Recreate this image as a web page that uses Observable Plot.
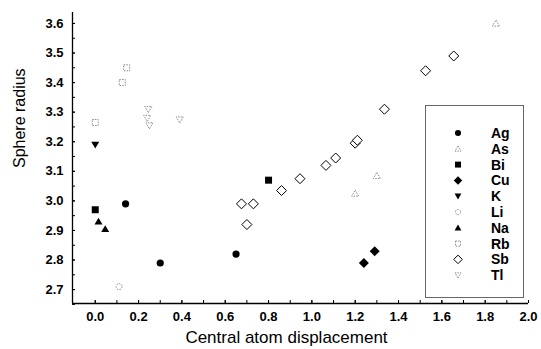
<!DOCTYPE html>
<html>
<head>
<meta charset="utf-8">
<script src="https://cdn.jsdelivr.net/npm/d3@7"></script>
<script src="https://cdn.jsdelivr.net/npm/@observablehq/plot@0.6"></script>
<style>
  html, body { margin: 0; padding: 0; background: #fff; }
  #wrap { position: relative; width: 541px; height: 349px; font-family: "Liberation Sans", Arial, sans-serif; }
  #legend { position: absolute; left: 0; top: 0; pointer-events: none; }
</style>
</head>
<body>
<div id="wrap"></div>
<script>
// ---- data ----
const seriesNames = ["Ag", "As", "Bi", "Cu", "K", "Li", "Na", "Rb", "Sb", "Tl"];
const agX = [0.14, 0.30, 0.65];
const agY = [2.99, 2.79, 2.82];
const asX = [1.20, 1.30, 1.85];
const asY = [3.025, 3.085, 3.60];
const biX = [0.00, 0.80];
const biY = [2.97, 3.07];
const cuX = [1.24, 1.29];
const cuY = [2.79, 2.83];
const kX = [0.00];
const kY = [3.19];
const liX = [0.11];
const liY = [2.71];
const naX = [0.015, 0.046];
const naY = [2.93, 2.905];
const rbX = [0.00, 0.125, 0.145];
const rbY = [3.265, 3.40, 3.45];
const sbX = [0.675, 0.70, 0.73, 0.86, 0.945, 1.065, 1.11, 1.20, 1.21, 1.335, 1.525, 1.655];
const sbY = [2.99, 2.92, 2.99, 3.035, 3.075, 3.12, 3.145, 3.195, 3.205, 3.31, 3.44, 3.49];
const tlX = [0.24, 0.245, 0.25, 0.39];
const tlY = [3.28, 3.31, 3.255, 3.275];
const xTickLabels = [0.0, 0.2, 0.4, 0.6, 0.8, 1.0, 1.2, 1.4, 1.6, 1.8, 2.0];
const yTickLabels = [2.7, 2.8, 2.9, 3.0, 3.1, 3.2, 3.3, 3.4, 3.5, 3.6];
const xMinorTicks = d3.range(0, 21).map(i => i / 10);
const yMinorTicks = d3.range(0, 20).map(i => +(2.65 + i * 0.05).toFixed(2));
const xDomain = [-0.105, 2.0];
const yDomain = [2.653, 3.637];
const xTitle = "Central atom displacement";
const yTitle = "Sphere radius";

const seriesX = [agX, asX, biX, cuX, kX, liX, naX, rbX, sbX, tlX];
const seriesY = [agY, asY, biY, cuY, kY, liY, naY, rbY, sbY, tlY];

// ---- symbols ----
const rad = s => Math.sqrt(s / Math.PI);
const shapes = {
  circle: {draw(c, s) { const r = rad(s); c.moveTo(r, 0); c.arc(0, 0, r, 0, 2 * Math.PI); c.closePath(); }},
  square: {draw(c, s) { const r = rad(s); c.rect(-r, -r, 2 * r, 2 * r); }},
  triUp: {draw(c, s) { const r = rad(s); c.moveTo(0, -r); c.lineTo(r * 1.05, r * 0.8); c.lineTo(-r * 1.05, r * 0.8); c.closePath(); }},
  triDown: {draw(c, s) { const r = rad(s); c.moveTo(0, r); c.lineTo(r * 1.05, -r * 0.8); c.lineTo(-r * 1.05, -r * 0.8); c.closePath(); }},
  diamond: {draw(c, s) { const r = rad(s); c.moveTo(0, -r); c.lineTo(r, 0); c.lineTo(0, r); c.lineTo(-r, 0); c.closePath(); }}
};
const faint = {fill: "white", stroke: "#8a8a8a", strokeWidth: 1, dash: "1.5,1.2"};
const styles = {
  Ag: {shape: "circle", r: 3.6, fill: "black", stroke: "none"},
  As: {shape: "triUp", r: 3.4, ...faint},
  Bi: {shape: "square", r: 3.5, fill: "black", stroke: "none"},
  Cu: {shape: "diamond", r: 5, fill: "black", stroke: "none"},
  K: {shape: "triDown", r: 3.8, fill: "black", stroke: "none"},
  Li: {shape: "circle", r: 3, ...faint},
  Na: {shape: "triUp", r: 3.8, fill: "black", stroke: "none"},
  Rb: {shape: "square", r: 3, ...faint},
  Sb: {shape: "diamond", r: 5, fill: "white", stroke: "black", strokeWidth: 1},
  Tl: {shape: "triDown", r: 3.4, ...faint}
};

const table = seriesNames.map((name, i) => ({
  name,
  rows: seriesX[i].map((x, j) => ({x, y: seriesY[i][j], name}))
}));

const tickFont = {fontSize: 13, fontWeight: "bold"};

const plot = Plot.plot({
  width: 541,
  height: 349,
  marginLeft: 72,
  marginRight: 13,
  marginTop: 12,
  marginBottom: 46,
  style: {fontFamily: "'Liberation Sans', Arial, sans-serif", background: "white", color: "black"},
  x: {domain: xDomain},
  y: {domain: yDomain},
  marks: [
    Plot.axisY({ticks: yMinorTicks, tickSize: -3, fill: "none", label: null}),
    Plot.axisY({ticks: yTickLabels, tickSize: -3, tickPadding: 12, tickFormat: d => d.toFixed(1), label: null, ...tickFont}),
    Plot.axisX({ticks: xMinorTicks, tickSize: -3, fill: "none", label: null}),
    Plot.axisX({ticks: xTickLabels, tickSize: -3, tickPadding: 11, tickFormat: d => d.toFixed(1), label: null, ...tickFont}),
    Plot.ruleX([xDomain[0]], {strokeWidth: 1.3}),
    Plot.ruleY([yDomain[0]], {strokeWidth: 1.3}),
    ...table.map(({name, rows}) => {
      const s = styles[name];
      return Plot.dot(rows, {
        x: "x", y: "y",
        symbol: shapes[s.shape], r: s.r,
        fill: s.fill, stroke: s.stroke,
        strokeWidth: s.strokeWidth || 1,
        strokeDasharray: s.dash || null
      });
    }),
    Plot.text([yTitle], {frameAnchor: "left", dx: -53, dy: 10, rotate: -90, fontSize: 16}),
    Plot.text([xTitle], {frameAnchor: "bottom", dx: -14, dy: 39, fontSize: 17})
  ]
});
document.getElementById("wrap").appendChild(plot);

// ---- legend (drawn over the plot area, top-right) ----
const lg = d3.select("#wrap").append("svg")
  .attr("id", "legend")
  .attr("width", 541).attr("height", 349);
const box = {left: 425, top: 105, right: 523, bottom: 297};
lg.append("rect")
  .attr("x", box.left + 0.5).attr("y", box.top + 0.5)
  .attr("width", box.right - box.left).attr("height", box.bottom - box.top)
  .attr("fill", "white").attr("stroke", "#666").attr("stroke-width", 1);
const rowY0 = 133, rowStep = 15.8, symX = 458, labX = 491;
seriesNames.forEach((name, i) => {
  const s = styles[name];
  const y = rowY0 + i * rowStep;
  const size = Math.PI * Math.pow(s.r * 0.85, 2);
  lg.append("path")
    .attr("transform", `translate(${symX},${y})`)
    .attr("d", d3.symbol(shapes[s.shape], size)())
    .attr("fill", s.fill).attr("stroke", s.stroke)
    .attr("stroke-width", s.strokeWidth || 1)
    .attr("stroke-dasharray", s.dash || null);
  lg.append("text")
    .attr("x", labX).attr("y", y).attr("dy", "0.36em")
    .attr("font-family", "'Liberation Sans', Arial, sans-serif")
    .attr("font-size", 14).attr("font-weight", "bold")
    .text(name);
});
</script>
</body>
</html>
